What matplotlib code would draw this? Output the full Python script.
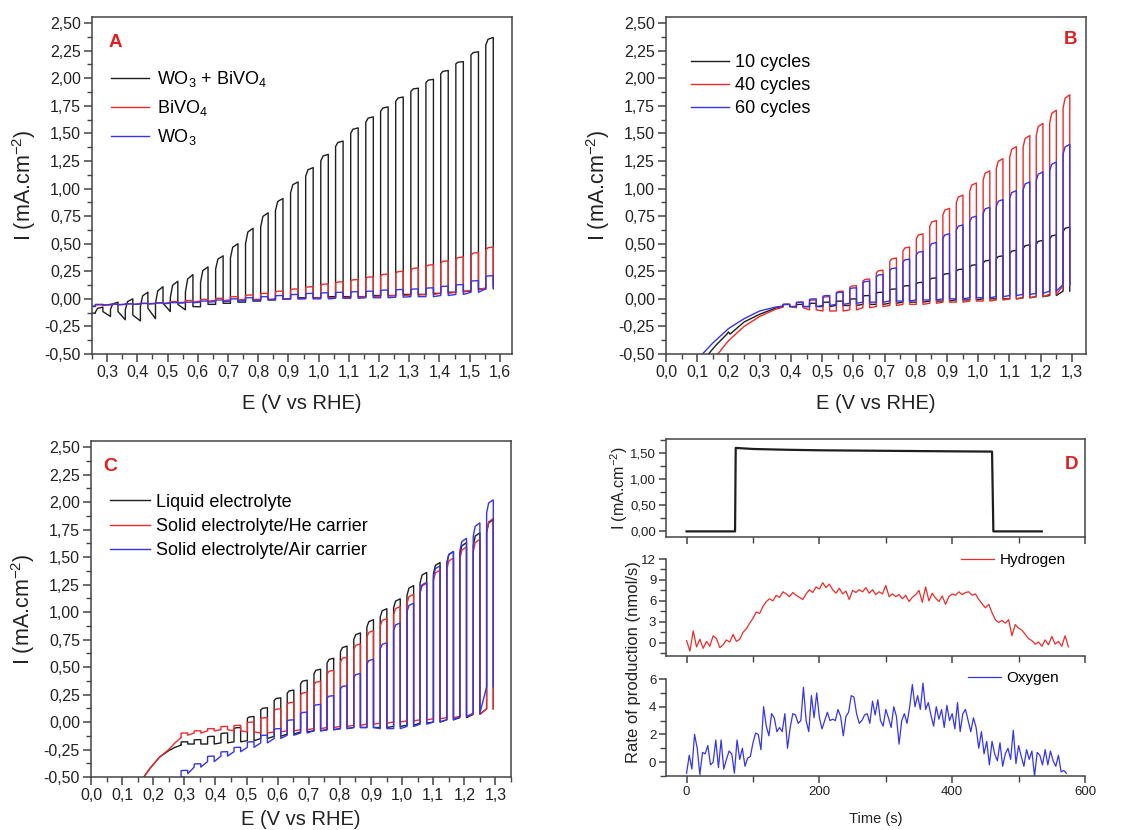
import numpy as np
import matplotlib
matplotlib.use("Agg")
import matplotlib.pyplot as plt
from matplotlib.ticker import MultipleLocator, FuncFormatter

plt.rcParams.update({
    "font.family": ["Liberation Sans", "DejaVu Sans"],
    "mathtext.fontset": "custom",
    "mathtext.rm": "Liberation Sans",
    "mathtext.it": "Liberation Sans:italic",
    "mathtext.bf": "Liberation Sans:bold",
})

BLACK = "#1e1e1e"
RED = "#ee2b2b"
BLUE = "#3535ee"
SPINE = "#444444"

# ---------------- Panel A data (chopped-light LSV) ----------------
A_E_off = [0.286, 0.336, 0.385, 0.435, 0.485, 0.534, 0.584, 0.634, 0.684, 0.733,
           0.783, 0.833, 0.882, 0.932, 0.982, 1.032, 1.081, 1.131, 1.181, 1.230,
           1.280, 1.330, 1.380, 1.429, 1.479, 1.529, 1.578]
A_period = 0.0497
A_pre_E = [0.25]
A_blk_pre = [-0.13]
A_blk_peak = [-0.075, -0.03, 0.0, 0.06, 0.11, 0.16, 0.22, 0.29, 0.39, 0.50, 0.64, 0.78,
              0.91, 1.06, 1.19, 1.31, 1.43, 1.55, 1.65, 1.74, 1.83, 1.91, 1.99, 2.07,
              2.15, 2.24, 2.37]
A_blk_lstart = [-0.12, -0.094, -0.10, -0.07, -0.04, 0.01, 0.06, 0.15, 0.27, 0.37, 0.50,
                0.65, 0.80, 0.96, 1.11, 1.25, 1.38, 1.50, 1.60, 1.70, 1.79, 1.88, 1.96,
                2.04, 2.13, 2.21, 2.30]
A_blk_dstart = [-0.115, -0.115, -0.147, -0.085, -0.04, -0.05, -0.07, -0.05, -0.04, -0.03,
                -0.02, -0.01, 0.0, 0.01, 0.01, 0.02, 0.02, 0.02, 0.03, 0.03, 0.04, 0.04,
                0.05, 0.06, 0.07, 0.09, 0.12]
A_blk_dend = [-0.16, -0.19, -0.20, -0.18, -0.115, -0.10, -0.072, -0.05, -0.04, -0.03,
              -0.02, -0.01, 0.0, 0.01, 0.01, 0.02, 0.02, 0.02, 0.03, 0.03, 0.04, 0.04,
              0.05, 0.06, 0.07, 0.09, 0.12]
A_red_pre = [-0.065]
A_red_peak = [-0.055, -0.05, -0.045, -0.04, -0.035, -0.025, -0.015, -0.005, 0.005, 0.02,
              0.035, 0.05, 0.07, 0.09, 0.11, 0.135, 0.155, 0.175, 0.20, 0.225, 0.25,
              0.28, 0.31, 0.345, 0.38, 0.42, 0.47]
A_red_dark = [-0.06, -0.055, -0.05, -0.045, -0.04, -0.035, -0.03, -0.02, -0.015, -0.01,
              -0.005, -0.005, 0.0, 0.0, 0.005, 0.01, 0.01, 0.015, 0.02, 0.025, 0.03,
              0.035, 0.04, 0.05, 0.06, 0.08, 0.10]
A_blu_pre = [-0.07]
A_blu_peak = [-0.05, -0.048, -0.045, -0.042, -0.038, -0.034, -0.03, -0.02, -0.01, 0.0,
              0.01, 0.02, 0.03, 0.04, 0.05, 0.055, 0.06, 0.065, 0.07, 0.08, 0.085, 0.09,
              0.10, 0.115, 0.13, 0.165, 0.21]
A_blu_dark = [-0.055, -0.052, -0.05, -0.047, -0.044, -0.04, -0.036, -0.03, -0.025, -0.02,
              -0.015, -0.01, -0.005, 0.0, 0.0, 0.0, 0.005, 0.005, 0.01, 0.01, 0.015,
              0.02, 0.02, 0.03, 0.04, 0.06, 0.09]
A_labels = ["WO$_3$ + BiVO$_4$", "BiVO$_4$", "WO$_3$"]

# ---------------- Panel B data ----------------
B_E_off = [0.396, 0.439, 0.481, 0.524, 0.567, 0.610, 0.652, 0.695, 0.738, 0.780, 0.823,
           0.866, 0.908, 0.951, 0.994, 1.037, 1.079, 1.122, 1.165, 1.207, 1.250, 1.293]
B_period = 0.0427
B_blk_pre_E = [0.13, 0.16, 0.195, 0.20, 0.205, 0.25, 0.30, 0.35, 0.375]
B_blk_pre_I = [-0.52, -0.42, -0.32, -0.30, -0.32, -0.21, -0.14, -0.085, -0.07]
B_red_pre_E = [0.16, 0.20, 0.25, 0.30, 0.35, 0.375]
B_red_pre_I = [-0.52, -0.38, -0.25, -0.16, -0.095, -0.075]
B_blu_pre_E = [0.11, 0.15, 0.20, 0.25, 0.30, 0.35, 0.375]
B_blu_pre_I = [-0.52, -0.40, -0.27, -0.18, -0.11, -0.075, -0.065]
B_blk_peak = [-0.05, -0.05, -0.04, -0.03, -0.02, 0.0, 0.03, 0.06, 0.09, 0.12, 0.15, 0.19,
              0.23, 0.27, 0.31, 0.35, 0.39, 0.44, 0.49, 0.53, 0.58, 0.65]
B_blk_dark = [-0.07, -0.07, -0.07, -0.07, -0.06, -0.06, -0.05, -0.05, -0.04, -0.03, -0.03,
              -0.02, -0.02, -0.01, -0.01, 0.0, 0.0, 0.0, 0.01, 0.02, 0.03, 0.07]
B_red_peak = [-0.05, -0.03, -0.01, 0.02, 0.07, 0.12, 0.18, 0.26, 0.37, 0.47, 0.59, 0.71,
              0.82, 0.94, 1.05, 1.16, 1.27, 1.38, 1.48, 1.59, 1.71, 1.85]
B_red_dark = [-0.07, -0.08, -0.10, -0.11, -0.11, -0.10, -0.08, -0.07, -0.06, -0.05, -0.05,
              -0.04, -0.03, -0.03, -0.02, -0.02, -0.01, 0.0, 0.01, 0.02, 0.04, 0.12]
B_blu_peak = [-0.05, -0.03, 0.0, 0.03, 0.06, 0.10, 0.16, 0.22, 0.28, 0.36, 0.43, 0.51,
              0.59, 0.67, 0.75, 0.83, 0.90, 0.98, 1.06, 1.15, 1.24, 1.40]
B_blu_dark = [-0.07, -0.07, -0.07, -0.06, -0.05, -0.04, -0.03, -0.03, -0.02, -0.02, -0.01,
              -0.01, 0.0, 0.0, 0.01, 0.01, 0.02, 0.03, 0.04, 0.05, 0.07, 0.13]
B_labels = ["10 cycles", "40 cycles", "60 cycles"]

# ---------------- Panel C data ----------------
C_E_off = [0.311, 0.353, 0.396, 0.439, 0.481, 0.524, 0.567, 0.610, 0.652, 0.695, 0.738,
           0.780, 0.823, 0.866, 0.908, 0.951, 0.994, 1.037, 1.079, 1.122, 1.165, 1.207,
           1.250, 1.293]
C_period = 0.0427
C_blk_pre_E = [0.165, 0.19, 0.22, 0.25, 0.27, 0.29]
C_blk_pre_I = [-0.52, -0.42, -0.32, -0.26, -0.23, -0.21]
C_red_pre_E = [0.165, 0.19, 0.22, 0.25, 0.27, 0.29]
C_red_pre_I = [-0.52, -0.42, -0.32, -0.25, -0.19, -0.14]
C_blu_pre_E = [0.29, 0.30]
C_blu_pre_I = [-0.52, -0.50]
C_blk_peak = [-0.18, -0.16, -0.13, -0.10, -0.05, 0.05, 0.13, 0.22, 0.29, 0.38, 0.48, 0.58,
              0.69, 0.81, 0.93, 1.03, 1.12, 1.24, 1.36, 1.45, 1.55, 1.63, 1.72, 1.84]
C_blk_dark = [-0.20, -0.20, -0.20, -0.19, -0.18, -0.17, -0.15, -0.13, -0.11, -0.09, -0.08,
              -0.07, -0.06, -0.05, -0.05, -0.05, -0.04, -0.03, -0.01, 0.0, 0.02, 0.04,
              0.07, 0.12]
C_red_peak = [-0.10, -0.08, -0.06, -0.04, -0.03, 0.0, 0.04, 0.12, 0.18, 0.27, 0.37, 0.47,
              0.59, 0.71, 0.83, 0.94, 1.05, 1.16, 1.26, 1.38, 1.49, 1.59, 1.66, 1.85]
C_red_dark = [-0.12, -0.10, -0.08, -0.07, -0.08, -0.09, -0.10, -0.09, -0.08, -0.07, -0.06,
              -0.05, -0.04, -0.03, -0.02, -0.01, 0.0, 0.01, 0.02, 0.03, 0.04, 0.05, 0.07,
              0.12]
C_blu_peak = [-0.44, -0.38, -0.31, -0.27, -0.23, -0.18, -0.12, -0.06, 0.02, 0.09, 0.16,
              0.24, 0.33, 0.44, 0.57, 0.72, 0.90, 1.08, 1.27, 1.42, 1.55, 1.67, 1.81, 2.02]
C_blu_dark = [-0.47, -0.41, -0.36, -0.31, -0.27, -0.23, -0.19, -0.15, -0.12, -0.10, -0.08,
              -0.07, -0.06, -0.05, -0.05, -0.06, -0.06, -0.04, -0.02, 0.0, 0.02, 0.05,
              0.08, 0.32]
C_labels = ["Liquid electrolyte", "Solid electrolyte/He carrier", "Solid electrolyte/Air carrier"]

# ---------------- Panel D data ----------------
D_cur_t = [0, 73, 74, 100, 150, 200, 300, 400, 460, 462, 535]
D_cur_I = [0.0, 0.0, 1.59, 1.57, 1.555, 1.545, 1.535, 1.525, 1.52, 0.0, 0.0]
D_h2_dt = 5
D_h2 = [0.3, -1.2, 1.7, -0.6, 0.5, -0.8, 0.2, -0.5, 1.0, 0.6, -0.7, -0.3, 0.4, 0.1, 1.2, 0.2,
        0.5, 1.5, 2.0, 2.8, 3.5, 4.4, 4.2, 5.2, 5.9, 6.3, 6.0, 6.8, 6.5, 7.3, 7.0, 6.6,
        7.2, 6.8, 6.5, 6.2, 7.0, 7.6, 7.2, 8.0, 7.7, 8.6, 7.9, 8.4, 7.6, 7.1, 7.8, 7.0,
        7.4, 6.2, 7.5, 7.2, 7.6, 7.3, 7.9, 7.1, 7.6, 6.9, 7.3, 7.0, 8.2, 6.6, 7.0, 6.6,
        6.9, 6.3, 6.8, 5.9, 6.5, 6.9, 7.5, 5.8, 8.0, 6.0, 7.1, 6.4, 5.9, 6.7, 5.5, 6.6,
        7.0, 6.8, 7.3, 6.9, 7.2, 7.3, 6.8, 7.0, 6.2, 5.6, 5.0, 5.5, 4.3, 3.3, 2.9, 3.2,
        2.8, 3.3, 1.0, 2.6, 2.1, 1.8, 1.2, 0.6, 0.3, -0.2, 0.1, -0.5, 0.4, -0.3, 0.9,
        -0.2, 0.2, -0.5, 1.0, -0.6]
D_o2_dt = 4
D_o2 = [-0.8, 0.5, -0.5, 2.0, 1.0, -0.9, 0.7, 0.6, 1.2, -0.2, 0.0, 1.6, -0.4, 1.6, -0.5,
        0.2, 0.8, 0.6, -0.8, 1.6, 0.2, 1.0, -0.3, 0.3, 0.4, 1.4, 2.1, 2.0, 0.9, 4.0, 2.6,
        1.9, 3.5, 3.2, 2.2, 2.5, 2.2, 3.5, 1.0, 2.5, 3.5, 3.4, 2.8, 3.0, 5.4, 3.0, 2.2,
        4.8, 3.2, 5.0, 3.2, 2.4, 3.0, 3.6, 3.0, 3.1, 3.0, 3.8, 3.3, 1.9, 3.3, 3.6, 4.8,
        4.7, 3.5, 2.8, 3.0, 3.4, 3.5, 2.8, 4.4, 3.4, 4.5, 3.0, 2.6, 3.8, 3.2, 2.5, 4.0,
        3.3, 1.3, 3.0, 3.5, 2.8, 4.0, 5.6, 4.0, 4.8, 3.8, 5.7, 3.8, 4.3, 3.4, 2.6, 4.0,
        3.1, 3.8, 2.5, 4.1, 3.0, 3.5, 2.4, 4.3, 2.2, 3.5, 3.8, 3.0, 2.2, 3.2, 2.5, 1.0,
        2.2, 0.6, 1.5, -0.2, 1.5, 0.6, 0.1, 1.4, -0.3, 0.6, 1.0, 0.2, 2.3, -0.1, 1.2,
        0.4, -0.3, 0.9, 0.2, 0.8, -1.0, 0.7, 0.5, -0.2, 0.9, -0.2, 0.8, 0.1, -0.3, 0.5,
        -0.7, -0.6, -0.8]


def chopped(pre_E, pre_I, E_off, period, peak, dark, lstart=None, dstart=None,
            dend=None, duty=0.5, ramp=0.07):
    """Light-chopped sweep: light segments end at `peak`, dark segments
    run through the `dark` readings (joined to the next reading)."""
    n = len(peak)
    xs, ys = list(pre_E), list(pre_I)
    for k in range(n):
        on = E_off[k] - duty * period
        if k == 0:
            prev = ys[-1]
        else:
            prev = dend[k - 1] if dend is not None else dark[k]
        ls = lstart[k] if lstart is not None else peak[k] - ramp * (peak[k] - dark[k])
        ds = dstart[k] if dstart is not None else dark[k]
        mid = on + 0.3 * (E_off[k] - on)
        xs += [on, on, mid, E_off[k], E_off[k]]
        ys += [prev, ls, ls + 0.75 * (peak[k] - ls), peak[k], ds]
    return np.array(xs), np.array(ys)


def comma(fmt):
    return FuncFormatter(lambda v, p: (fmt % v).replace(".", ","))


W, H = 1146, 830
fig = plt.figure(figsize=(W / 100, H / 100), dpi=100)


def box(l, r, t, b):
    return [l / W, 1 - b / H, (r - l) / W, (b - t) / H]


def style_iv(ax, xlim):
    ax.set_xlim(*xlim)
    ax.set_ylim(-0.5, 2.555)
    ax.xaxis.set_major_locator(MultipleLocator(0.1))
    ax.xaxis.set_minor_locator(MultipleLocator(0.05))
    ax.yaxis.set_major_locator(MultipleLocator(0.25))
    ax.yaxis.set_minor_locator(MultipleLocator(0.125))
    ax.xaxis.set_major_formatter(comma("%.1f"))
    ax.yaxis.set_major_formatter(comma("%.2f"))
    ax.tick_params(which="major", direction="out", length=6, width=1.1, color=SPINE,
                   labelsize=11.5, pad=2, labelcolor="#222222")
    ax.tick_params(which="minor", direction="out", length=3.5, width=1.0, color=SPINE)
    for s in ax.spines.values():
        s.set_color(SPINE)
        s.set_linewidth(1.1)
    ax.set_xlabel("E (V vs RHE)", fontsize=14.5, labelpad=10, color="#222222")
    ax.set_ylabel("I (mA.cm$^{-2}$)", fontsize=15.5, labelpad=5, color="#222222")


LW = 1.0

# ---- A ----
axA = fig.add_axes(box(92, 512, 17, 354))
x, y = chopped(A_pre_E, A_blk_pre, A_E_off, A_period, A_blk_peak, A_blk_dend,
               A_blk_lstart, A_blk_dstart, A_blk_dend)
axA.plot(x, y, color=BLACK, lw=LW, label=A_labels[0])
x, y = chopped(A_pre_E, A_red_pre, A_E_off, A_period, A_red_peak, A_red_dark)
axA.plot(x, y, color=RED, lw=LW, label=A_labels[1])
x, y = chopped(A_pre_E, A_blu_pre, A_E_off, A_period, A_blu_peak, A_blu_dark)
axA.plot(x, y, color=BLUE, lw=LW, label=A_labels[2])
style_iv(axA, (0.25, 1.64))
axA.legend(loc="upper left", bbox_to_anchor=(0.045, 0.845), frameon=False, fontsize=13,
           handlelength=2.1, handletextpad=0.45, labelspacing=0.5, borderpad=0,
           borderaxespad=0)
axA.text(0.04, 0.923, "A", transform=axA.transAxes, color="#e02020", fontsize=13.5,
         fontweight="bold", ha="left", va="center")

# ---- B ----
axB = fig.add_axes(box(666, 1086, 17, 354))
x, y = chopped(B_blk_pre_E, B_blk_pre_I, B_E_off, B_period, B_blk_peak, B_blk_dark)
axB.plot(x, y, color=BLACK, lw=LW, label=B_labels[0])
x, y = chopped(B_red_pre_E, B_red_pre_I, B_E_off, B_period, B_red_peak, B_red_dark)
axB.plot(x, y, color=RED, lw=LW, label=B_labels[1])
x, y = chopped(B_blu_pre_E, B_blu_pre_I, B_E_off, B_period, B_blu_peak, B_blu_dark)
axB.plot(x, y, color=BLUE, lw=LW, label=B_labels[2])
style_iv(axB, (0.0, 1.345))
axB.legend(loc="upper left", bbox_to_anchor=(0.06, 0.89), frameon=False, fontsize=13,
           handlelength=2.1, handletextpad=0.35, labelspacing=0.33, borderpad=0,
           borderaxespad=0)
axB.text(0.962, 0.932, "B", transform=axB.transAxes, color="#e02020", fontsize=13.5,
         fontweight="bold", ha="center", va="center")

# ---- C ----
axC = fig.add_axes(box(91, 511, 441, 777))
x, y = chopped(C_blk_pre_E, C_blk_pre_I, C_E_off, C_period, C_blk_peak, C_blk_dark)
axC.plot(x, y, color=BLACK, lw=LW, label=C_labels[0])
x, y = chopped(C_red_pre_E, C_red_pre_I, C_E_off, C_period, C_red_peak, C_red_dark)
axC.plot(x, y, color=RED, lw=LW, label=C_labels[1])
x, y = chopped(C_blu_pre_E, C_blu_pre_I, C_E_off, C_period, C_blu_peak, C_blu_dark)
axC.plot(x, y, color=BLUE, lw=LW, label=C_labels[2])
style_iv(axC, (0.0, 1.35))
axC.xaxis.labelpad = 5
axC.legend(loc="upper left", bbox_to_anchor=(0.045, 0.843), frameon=False, fontsize=13,
           handlelength=2.2, handletextpad=0.35, labelspacing=0.4, borderpad=0,
           borderaxespad=0)
axC.text(0.045, 0.923, "C", transform=axC.transAxes, color="#e02020", fontsize=14,
         fontweight="bold", ha="center", va="center")

# ---- D ----
DX = (-31, 600)
axT = fig.add_axes(box(666, 1085, 439, 537))
axM = fig.add_axes(box(666, 1085, 559, 656))
axO = fig.add_axes(box(666, 1085, 679, 776))

axT.plot(D_cur_t, D_cur_I, color=BLACK, lw=1.6)
axT.set_ylim(-0.107, 1.76)
axT.yaxis.set_major_locator(MultipleLocator(0.5))
axT.yaxis.set_minor_locator(MultipleLocator(0.25))
axT.yaxis.set_major_formatter(comma("%.2f"))
axT.text(0.967, 0.735, "D", transform=axT.transAxes, color="#e02020", fontsize=13.5,
         fontweight="bold", ha="center", va="center")

t_h2 = np.arange(len(D_h2)) * D_h2_dt
axM.plot(t_h2, D_h2, color=RED, lw=0.9, label="Hydrogen")
axM.set_ylim(-1.9, 12)
axM.yaxis.set_major_locator(MultipleLocator(3))
axM.yaxis.set_minor_locator(MultipleLocator(1.5))

t_o2 = np.arange(len(D_o2)) * D_o2_dt
axO.plot(t_o2, D_o2, color=BLUE, lw=0.9, label="Oxygen")
axO.set_ylim(-1, 6)
axO.yaxis.set_major_locator(MultipleLocator(2))
axO.yaxis.set_minor_locator(MultipleLocator(1))

for ax in (axT, axM, axO):
    ax.set_xlim(*DX)
    ax.xaxis.set_major_locator(MultipleLocator(200))
    ax.xaxis.set_minor_locator(MultipleLocator(100))
    ax.tick_params(which="major", direction="out", length=5, width=1.1, color=SPINE,
                   labelsize=9.5, pad=2, labelcolor="#222222")
    ax.tick_params(which="minor", direction="out", length=4, width=1.0, color=SPINE)
    for s in ax.spines.values():
        s.set_color(SPINE)
        s.set_linewidth(1.1)
for ax in (axT, axM):
    ax.tick_params(axis="x", labelbottom=False)
for ax in (axM, axO):
    ax.spines["top"].set_visible(False)
    ax.spines["right"].set_visible(False)

axT.set_ylabel("I (mA.cm$^{-2}$)", fontsize=11.5, labelpad=0, color="#222222")
axO.set_xlabel("Time (s)", fontsize=10.5, labelpad=10, color="#222222")
fig.text(633 / W, 1 - 662 / H, "Rate of production (nmol/s)", rotation=90,
         ha="center", va="center", fontsize=12, color="#222222")

axM.legend(loc="upper left", bbox_to_anchor=(0.705, 1.06), frameon=False, fontsize=11,
           handlelength=2.15, handletextpad=0.35, borderpad=0, borderaxespad=0)
axO.legend(loc="upper left", bbox_to_anchor=(0.72, 1.08), frameon=False, fontsize=11,
           handlelength=2.15, handletextpad=0.35, borderpad=0, borderaxespad=0)

fig.savefig("out.png", dpi=100)
